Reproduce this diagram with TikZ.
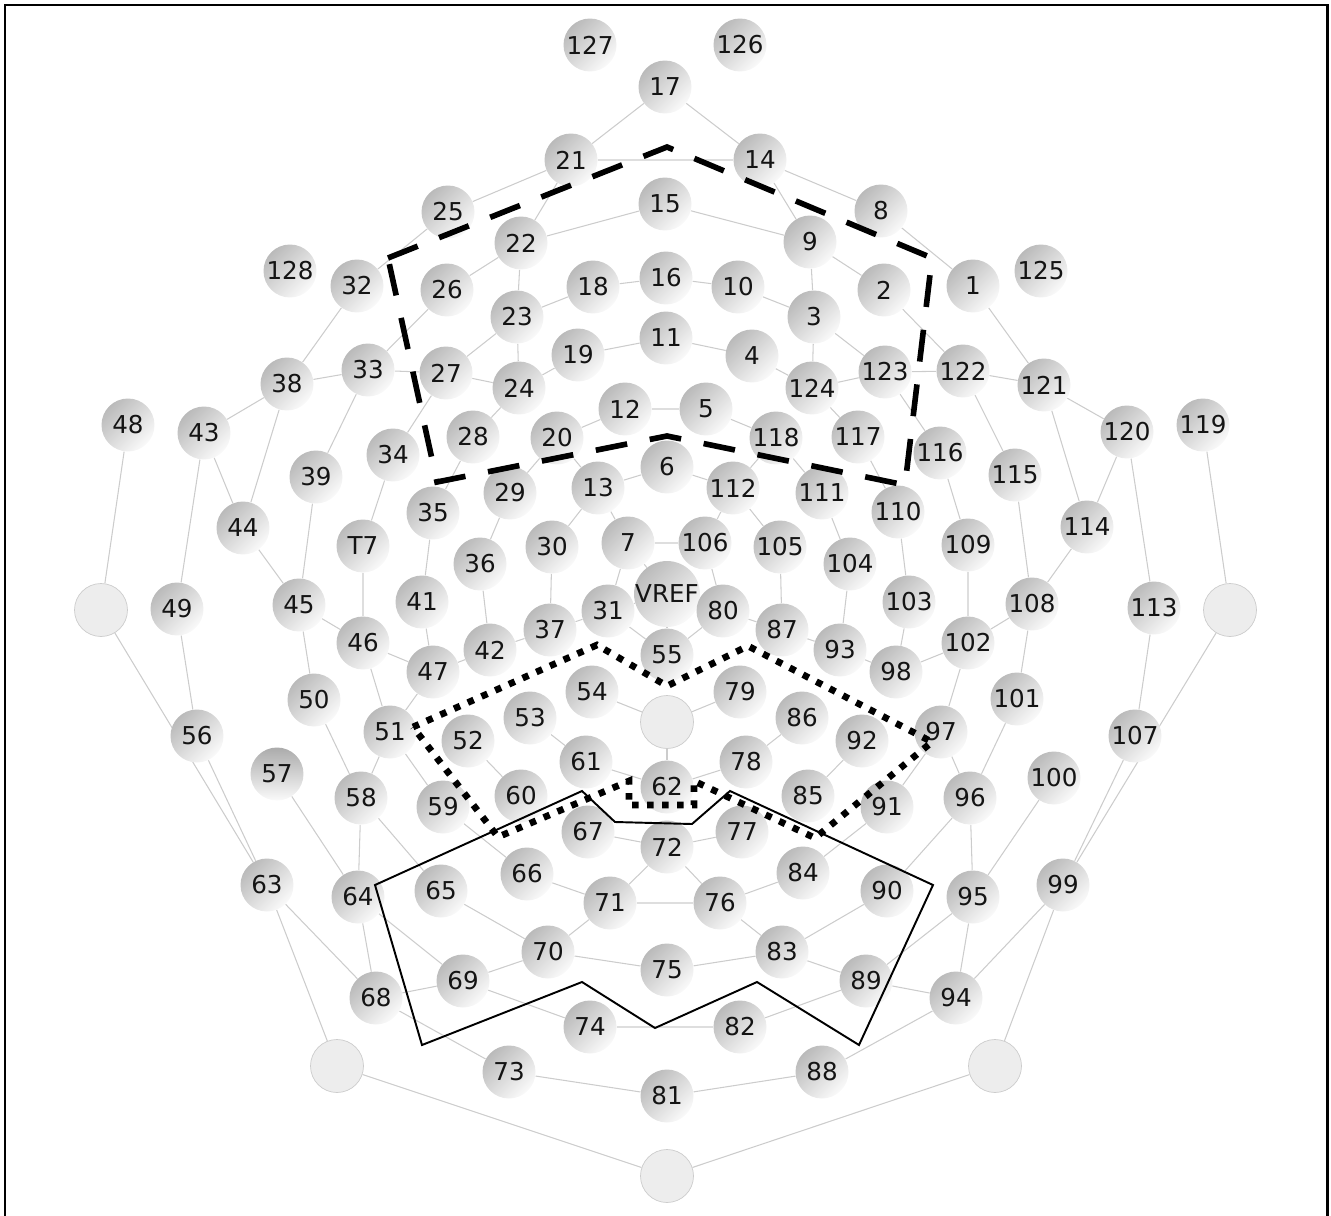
\documentclass[tikz,border=0pt]{standalone}
\usepackage{fontspec}
\usepackage{tikz}
\usetikzlibrary{backgrounds}
\newfontfamily\elecfont{DejaVu Sans}

\begin{document}
\begin{tikzpicture}[
  x=0.02cm, y=-0.02cm,
  elec/.style={circle, minimum size=1.06cm, inner sep=0pt,
    font=\elecfont\fontsize{14}{16}\selectfont, text=black!92,
    top color=black!27, bottom color=black!2, shading angle=45},
  blank/.style={circle, minimum size=1.06cm, inner sep=0pt,
    draw=black!20, fill=black!7},
  link/.style={draw=black!20, line width=0.6pt},
  frontal/.style={line width=3.2pt, dash pattern=on 0.64cm off 0.46cm},
  central/.style={line width=3.8pt, dash pattern=on 0.13cm off 0.17cm},
  occip/.style={line width=1.1pt, line join=miter},
]
\useasboundingbox (0,0) rectangle (1331,1216);

% === frame ===
\draw[line width=1.7pt] (5,1216) -- (5,5) -- (1327,5) -- (1327,1216);

% === electrodes, front to back ===
\node[elec] (n127) at (590,45) {127};
\node[elec] (n126) at (740,45) {126};
\node[elec] (n17) at (665,87) {17};
\node[elec] (n21) at (571,160) {21};
\node[elec] (n14) at (760,160) {14};
\node[elec] (n25) at (448,212) {25};
\node[elec] (n15) at (665,204) {15};
\node[elec] (n8) at (881,211) {8};
\node[elec] (n22) at (521,243) {22};
\node[elec] (n9) at (810,242) {9};
\node[elec] (n128) at (290,271) {128};
\node[elec] (n32) at (357,286) {32};
\node[elec] (n26) at (447,290) {26};
\node[elec] (n18) at (593,287) {18};
\node[elec] (n16) at (666,278) {16};
\node[elec] (n10) at (738,287) {10};
\node[elec] (n2) at (884,290) {2};
\node[elec] (n1) at (973,286) {1};
\node[elec] (n125) at (1041,271) {125};
\node[elec] (n23) at (517,317) {23};
\node[elec] (n3) at (814,317) {3};
\node[elec] (n33) at (368,370) {33};
\node[elec] (n27) at (446,373) {27};
\node[elec] (n19) at (578,355) {19};
\node[elec] (n11) at (666,338) {11};
\node[elec] (n4) at (752,356) {4};
\node[elec] (n123) at (885,372) {123};
\node[elec] (n122) at (963,371) {122};
\node[elec] (n38) at (287,384) {38};
\node[elec] (n24) at (519,388) {24};
\node[elec] (n124) at (812,388) {124};
\node[elec] (n121) at (1044,385) {121};
\node[elec] (n12) at (625,409) {12};
\node[elec] (n5) at (706,409) {5};
\node[elec] (n48) at (128,425) {48};
\node[elec] (n43) at (204,433) {43};
\node[elec] (n28) at (473,437) {28};
\node[elec] (n20) at (557,438) {20};
\node[elec] (n118) at (776,438) {118};
\node[elec] (n117) at (858,437) {117};
\node[elec] (n120) at (1127,432) {120};
\node[elec] (n119) at (1203,425) {119};
\node[elec] (n34) at (393,455) {34};
\node[elec] (n116) at (940,453) {116};
\node[elec] (n6) at (667,467) {6};
\node[elec] (n39) at (316,477) {39};
\node[elec] (n115) at (1015,475) {115};
\node[elec] (n13) at (598,488) {13};
\node[elec] (n112) at (733,488) {112};
\node[elec] (n29) at (510,493) {29};
\node[elec] (n111) at (822,493) {111};
\node[elec] (n35) at (433,513) {35};
\node[elec] (n110) at (898,512) {110};
\node[elec] (n44) at (243,528) {44};
\node[elec] (n114) at (1087,527) {114};
\node[elec] (t7) at (363,546) {T7};
\node[elec] (n30) at (552,547) {30};
\node[elec] (n7) at (628,543) {7};
\node[elec] (n106) at (705,543) {106};
\node[elec] (n105) at (780,547) {105};
\node[elec] (n109) at (968,545) {109};
\node[elec] (n36) at (480,564) {36};
\node[elec] (n104) at (850,564) {104};
\node[elec] (vref) at (667,594) {VREF};
\node[elec] (n45) at (299,605) {45};
\node[elec] (n41) at (422,602) {41};
\node[elec] (n31) at (608,611) {31};
\node[elec] (n80) at (723,611) {80};
\node[elec] (n103) at (909,602) {103};
\node[elec] (n108) at (1032,604) {108};
\node[elec] (n49) at (177,609) {49};
\node[elec] (n113) at (1154,608) {113};
\node[blank] (eL) at (101,610) {};
\node[blank] (eR) at (1230,610) {};
\node[elec] (n37) at (550,630) {37};
\node[elec] (n87) at (782,630) {87};
\node[elec] (n46) at (363,643) {46};
\node[elec] (n102) at (968,643) {102};
\node[elec] (n42) at (490,650) {42};
\node[elec] (n55) at (667,655) {55};
\node[elec] (n93) at (840,650) {93};
\node[elec] (n47) at (433,672) {47};
\node[elec] (n98) at (896,672) {98};
\node[elec] (n54) at (592,692) {54};
\node[elec] (n79) at (740,692) {79};
\node[elec] (n50) at (314,700) {50};
\node[elec] (n101) at (1017,699) {101};
\node[elec] (n53) at (530,718) {53};
\node[elec] (n86) at (802,718) {86};
\node[blank] (eC) at (667,722) {};
\node[elec] (n51) at (390,732) {51};
\node[elec] (n97) at (941,732) {97};
\node[elec] (n52) at (468,741) {52};
\node[elec] (n92) at (862,741) {92};
\node[elec] (n56) at (197,736) {56};
\node[elec] (n107) at (1135,736) {107};
\node[elec] (n61) at (586,762) {61};
\node[elec] (n78) at (746,762) {78};
\node[elec, top color=black!33] (n57) at (277,774) {57};
\node[elec] (n100) at (1054,778) {100};
\node[elec] (n62) at (667,787) {62};
\node[elec] (n60) at (521,796) {60};
\node[elec] (n85) at (808,796) {85};
\node[elec] (n58) at (361,798) {58};
\node[elec] (n96) at (970,798) {96};
\node[elec] (n59) at (443,807) {59};
\node[elec] (n91) at (887,807) {91};
\node[elec] (n67) at (588,832) {67};
\node[elec] (n77) at (742,832) {77};
\node[elec] (n72) at (667,847) {72};
\node[elec] (n66) at (527,874) {66};
\node[elec] (n84) at (803,873) {84};
\node[elec] (n63) at (267,885) {63};
\node[elec] (n99) at (1063,885) {99};
\node[elec] (n64) at (358,897) {64};
\node[elec] (n95) at (973,897) {95};
\node[elec] (n65) at (441,891) {65};
\node[elec] (n90) at (887,891) {90};
\node[elec] (n71) at (610,903) {71};
\node[elec] (n76) at (720,903) {76};
\node[elec] (n70) at (548,952) {70};
\node[elec] (n83) at (782,952) {83};
\node[elec] (n75) at (667,970) {75};
\node[elec] (n69) at (463,981) {69};
\node[elec] (n89) at (866,981) {89};
\node[elec] (n68) at (376,998) {68};
\node[elec] (n94) at (956,998) {94};
\node[elec] (n74) at (590,1027) {74};
\node[elec] (n82) at (740,1027) {82};
\node[blank] (eLB) at (337,1066) {};
\node[blank] (eRB) at (995,1066) {};
\node[elec] (n73) at (509,1072) {73};
\node[elec] (n88) at (822,1072) {88};
\node[elec] (n81) at (667,1096) {81};
\node[blank] (eB) at (667,1176) {};

% === net links (behind the electrodes) ===
\begin{scope}[on background layer]
\draw[link] (n21) -- (n17) -- (n14) -- (n21);
\draw[link] (n25) -- (n21) -- (n22) -- (n15) -- (n9) -- (n14) -- (n8);
\draw[link] (n26) -- (n22) -- (n23) -- (n18) -- (n16) -- (n10) -- (n3) -- (n9) -- (n2);
\draw[link] (n25) -- (n32) -- (n38) -- (n33) -- (n27) -- (n23) -- (n24) -- (n19)
  -- (n11) -- (n4) -- (n124) -- (n3) -- (n123) -- (n122) -- (n121) -- (n1) -- (n8);
\draw[link] (n26) -- (n33) -- (n39) -- (n45) -- (n50) -- (n58) -- (n64) -- (n68)
  -- (n63) -- (n56) -- (n49) -- (n43) -- (n38) -- (n44) -- (n45) -- (n46) -- (n47)
  -- (n41) -- (n35) -- (n28) -- (n24) -- (n27);
\draw[link] (n27) -- (n34) -- (t7) -- (n46) -- (n51) -- (n59) -- (n66) -- (n71)
  -- (n76) -- (n84) -- (n91) -- (n97) -- (n102) -- (n109) -- (n116) -- (n123)
  -- (n124) -- (n117) -- (n110) -- (n103) -- (n98) -- (n102) -- (n108) -- (n115)
  -- (n122) -- (n2);
\draw[link] (n43) -- (n44);
\draw[link] (n121) -- (n120) -- (n114) -- (n121);
\draw[link] (n114) -- (n108) -- (n101) -- (n96) -- (n95) -- (n94) -- (n99)
  -- (n107) -- (n113) -- (n120);
\draw[link] (n97) -- (n96) -- (n90) -- (n83) -- (n89) -- (n95) -- (n100);
\draw[link] (n89) -- (n94) -- (n88) -- (n81) -- (n73) -- (n68) -- (n69) -- (n64) -- (n57);
\draw[link] (n89) -- (n82) -- (n74) -- (n69) -- (n70) -- (n65) -- (n58) -- (n51) -- (n47);
\draw[link] (n70) -- (n75) -- (n83) -- (n76) -- (n72) -- (n71) -- (n70);
\draw[link] (n67) -- (n72) -- (n77);
\draw[link] (n47) -- (n42) -- (n36) -- (n29) -- (n20) -- (n12) -- (n5) -- (n118)
  -- (n111) -- (n104) -- (n93) -- (n98);
\draw[link] (n42) -- (n37) -- (n30) -- (n13) -- (n20);
\draw[link] (n93) -- (n87) -- (n105) -- (n112) -- (n118);
\draw[link] (n13) -- (n6) -- (n112) -- (n106) -- (n7) -- (n13);
\draw[link] (n37) -- (n31) -- (n7);
\draw[link] (n87) -- (n80) -- (n106);
\draw[link] (n31) -- (n55) -- (n80);
\draw[link] (vref) -- (n55);
\draw[link] (vref) -- (n7);
\draw[link] (vref) -- (n31);
\draw[link] (vref) -- (n80);
\draw[link] (n54) -- (eC) -- (n79);
\draw[link] (eC) -- (n62);
\draw[link] (n53) -- (n61) -- (n62) -- (n78) -- (n86);
\draw[link] (n52) -- (n60);
\draw[link] (n92) -- (n85);
\draw[link] (n48) -- (eL) -- (n63) -- (eLB) -- (eB) -- (eRB) -- (n99) -- (eR) -- (n119);
\end{scope}

% === regions of interest ===
\draw[frontal] (388,258) -- (667,147) -- (932,258) -- (905,485) -- (667,436)
  -- (437,482) -- cycle;
\draw[central] (413,727) -- (597,645) -- (667,686) -- (748,646) -- (932,742)
  -- (815,838) -- (694,781) -- (694,805) -- (629,805) -- (629,781) -- (498,837) -- cycle;
\draw[occip] (375,885) -- (582,791) -- (615,822) -- (692,824) -- (730,791)
  -- (933,885) -- (859,1045) -- (757,982) -- (655,1028) -- (582,982)
  -- (422,1045) -- cycle;

\end{tikzpicture}
\end{document}
